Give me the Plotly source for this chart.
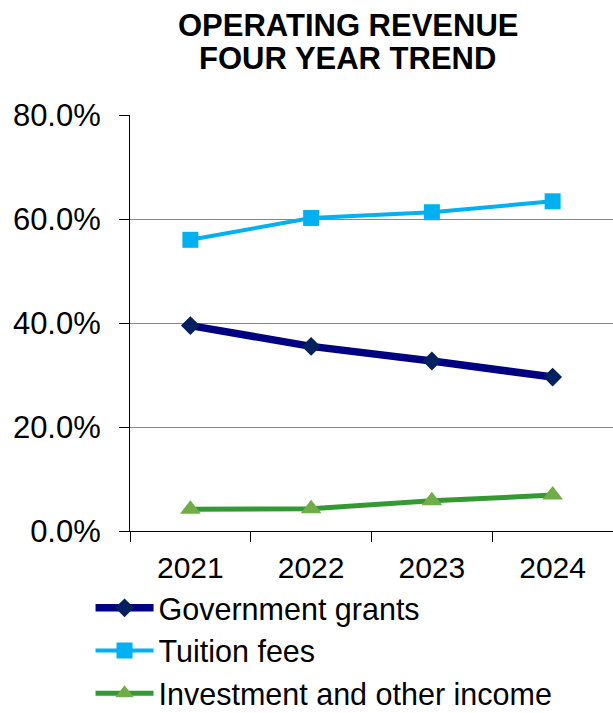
import plotly.graph_objects as go

# Share of operating revenue by source, percent of total
years = ["2021", "2022", "2023", "2024"]
government_grants = [39.5, 35.5, 32.7, 29.6]
tuition_fees = [56.0, 60.2, 61.3, 63.4]
investment_other = [4.2, 4.3, 5.8, 6.9]

y_ticks = [0, 20, 40, 60, 80]
title_lines = ["OPERATING REVENUE", "FOUR YEAR TREND"]

FONT = "Arial, 'Liberation Sans', sans-serif"

fig = go.Figure()
fig.add_trace(go.Scatter(
    x=years, y=government_grants, name="Government grants",
    mode="lines+markers",
    line=dict(color="#000080", width=7.5),
    marker=dict(symbol="diamond", size=14.5, color="#002060"),
))
fig.add_trace(go.Scatter(
    x=years, y=tuition_fees, name="Tuition fees",
    mode="lines+markers",
    line=dict(color="#00B0F0", width=4),
    marker=dict(symbol="square", size=16, color="#00B0F0"),
))
fig.add_trace(go.Scatter(
    x=years, y=investment_other, name="Investment and other income",
    mode="lines+markers",
    line=dict(color="#339933", width=5),
    marker=dict(symbol="triangle-up", size=18, color="#70AD47"),
))

fig.update_layout(
    width=613, height=713,
    margin=dict(l=130, r=0, t=115, b=182, autoexpand=False),
    paper_bgcolor="white", plot_bgcolor="white",
    font=dict(family=FONT, size=30, color="black"),
    showlegend=True,
    legend=dict(
        x=-0.0817, xanchor="left", y=-0.1215, yanchor="top",
        font=dict(family=FONT, size=30.5, color="black"),
        bgcolor="rgba(0,0,0,0)", itemwidth=58,
        traceorder="normal",
    ),
    xaxis=dict(
        type="category", range=[-0.5, 3.5],
        showline=True, linecolor="black", linewidth=1,
        ticks="outside", tickson="boundaries", ticklen=10, tickcolor="black",
        ticklabelstandoff=10,
        showgrid=False, tickfont=dict(size=30),
    ),
    yaxis=dict(
        range=[0, 80], tickvals=y_ticks,
        ticktext=[f"{v:.1f}%" for v in y_ticks],
        showline=True, linecolor="black", linewidth=1,
        ticks="outside", ticklen=10, tickcolor="black",
        ticklabelstandoff=12,
        showgrid=True, gridcolor="#868686", gridwidth=1,
        zeroline=False, tickfont=dict(size=31),
    ),
)

for i, line in enumerate(title_lines):
    fig.add_annotation(
        text=f"<b>{line}</b>", xref="paper", yref="paper",
        x=0.451, y=1.215 - i * 0.079, xanchor="center", yanchor="middle",
        showarrow=False, font=dict(family=FONT, size=31, color="black"),
    )

fig.write_html("out.html")
